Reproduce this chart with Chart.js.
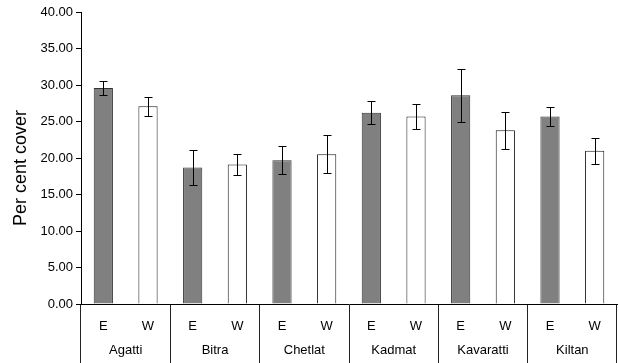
<!DOCTYPE html>
<html>
<head>
<meta charset="utf-8">
<script src="https://cdn.jsdelivr.net/npm/chart.js@4/dist/chart.umd.min.js"></script>
<style>
  body { margin: 0; background: #fff; }
  #wrap { width: 619px; height: 363px; }
</style>
</head>
<body>
<div id="wrap"><canvas id="chart" width="619" height="363"></canvas></div>
<script>
const islands = ["Agatti", "Bitra", "Chetlat", "Kadmat", "Kavaratti", "Kiltan"];
const sides = ["E", "W"];
const eastCover = [29.6, 18.7, 19.7, 26.2, 28.6, 25.7];
const westCover = [27.1, 19.1, 20.5, 25.7, 23.8, 21.0];
const eastErr = [0.95, 2.4, 1.95, 1.55, 3.65, 1.3];
const westErr = [1.3, 1.45, 2.6, 1.7, 2.5, 1.8];
const yTicks = [0, 5, 10, 15, 20, 25, 30, 35, 40];

const font = "Liberation Sans, Arial, sans-serif";

// error bars + E/W labels under each bar
const extras = {
    id: "extras",
    afterDatasetsDraw(chart) {
        const ctx = chart.ctx, y = chart.scales.y;
        const errs = [eastErr, westErr];
        ctx.save();
        ctx.strokeStyle = "#000";
        ctx.lineWidth = 1;
        chart.data.datasets.forEach((ds, i) => {
            chart.getDatasetMeta(i).data.forEach((bar, j) => {
                const v = ds.data[j], e = errs[i][j];
                const top = Math.round(y.getPixelForValue(v + e)) + 0.5;
                const bot = Math.round(y.getPixelForValue(v - e)) + 0.5;
                const x = Math.round(bar.x) + 0.5;
                ctx.beginPath();
                ctx.moveTo(x, top); ctx.lineTo(x, bot);
                ctx.moveTo(x - 4, top); ctx.lineTo(x + 4, top);
                ctx.moveTo(x - 4, bot); ctx.lineTo(x + 4, bot);
                ctx.stroke();
                ctx.fillStyle = "#000";
                ctx.font = "13px " + font;
                ctx.textAlign = "center";
                ctx.textBaseline = "middle";
                ctx.fillText(sides[i], bar.x, chart.chartArea.bottom + 22);
            });
        });
        ctx.restore();
    }
};

new Chart(document.getElementById("chart"), {
    type: "bar",
    data: {
        labels: islands,
        datasets: [
            { label: "E", data: eastCover, backgroundColor: "#808080", borderColor: "#333", borderWidth: 1 },
            { label: "W", data: westCover, backgroundColor: "#ffffff", borderColor: "#1a1a1a", borderWidth: 1 }
        ]
    },
    options: {
        responsive: false,
        animation: false,
        devicePixelRatio: 1,
        layout: { padding: { top: 12, right: 2, left: 0, bottom: 0 } },
        datasets: { bar: { barPercentage: 0.43, categoryPercentage: 1 } },
        plugins: { legend: { display: false }, tooltip: { enabled: false } },
        scales: {
            x: {
                grid: { offset: true, drawOnChartArea: false, color: "#222", tickLength: 59 },
                border: { color: "#000" },
                ticks: { color: "#000", font: { family: font, size: 13 }, padding: -20, maxRotation: 0 },
                afterFit(s) { s.height = 59; }
            },
            y: {
                min: 0, max: 40,
                afterBuildTicks(s) { s.ticks = yTicks.map(v => ({ value: v })); },
                grid: { drawOnChartArea: false, color: "#000", tickLength: 5 },
                border: { color: "#000" },
                ticks: { color: "#000", font: { family: font, size: 13 }, padding: 3,
                         callback: v => v.toFixed(2) },
                title: { display: true, text: "Per cent cover    ", color: "#000",
                         font: { family: font, size: 18 }, padding: { top: 10, bottom: 0 } },
                afterFit(s) { s.width = 81; }
            }
        }
    },
    plugins: [extras]
});
</script>
</body>
</html>
